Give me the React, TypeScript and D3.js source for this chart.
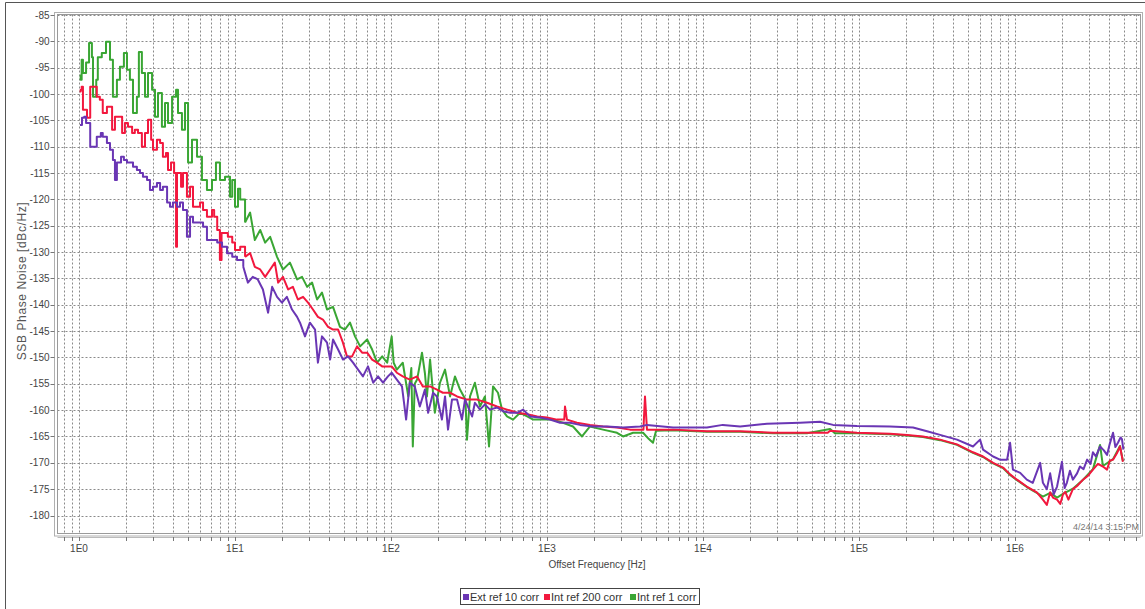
import React from 'react';
import * as d3 from 'd3';

const W = 1145;
const H = 609;

const seriesNames = ['Ext ref 10 corr', 'Int ref 200 corr', 'Int ref 1 corr'];
const seriesColors = ['#6a36b4', '#f2183e', '#3aa634'];

const yTickValues = [-85, -90, -95, -100, -105, -110, -115, -120, -125, -130, -135, -140, -145, -150, -155, -160, -165, -170, -175, -180];
const xMajorValues = [1, 10, 100, 1e3, 1e4, 1e5, 1e6];
const xMajorLabels = ['1E0', '1E1', '1E2', '1E3', '1E4', '1E5', '1E6'];
const xTitle = 'Offset Frequency [Hz]';
const yTitle = 'SSB Phase Noise [dBc/Hz]';
const timestamp = '4/24/14 3:15 PM';
// below this offset the analyser output is drawn as steps
const stepLimitHz = 12;

// Ext ref 10 corr (purple)
const extRef10: [number, number][] = [
  [1.015, -105.9], [1.045, -104.5], [1.08, -104.3], [1.11, -105.5], [1.18, -110], [1.27, -110], [1.30, -108.1],
  [1.38, -107.4], [1.42, -108.1], [1.51, -109.3], [1.58, -110.6], [1.65, -112.5], [1.70, -116.3], [1.75, -113],
  [1.86, -111.9], [1.94, -112.5], [2.03, -113], [2.12, -113], [2.22, -113.8], [2.35, -114.4], [2.46, -115],
  [2.57, -115.7], [2.73, -116.3], [2.85, -118.2], [2.98, -117.6], [3.16, -116.9], [3.31, -118.2], [3.45, -117.6],
  [3.67, -120.6], [3.83, -121.4], [4.0, -120.6], [4.25, -121.4], [4.44, -120.6], [4.64, -122], [4.92, -127.1],
  [5.15, -123.3], [5.38, -124.4], [5.80, -124.4], [6.24, -125.2], [6.61, -127.7], [7.12, -127.7], [7.69, -128.2],
  [8.26, -129], [8.89, -130.2], [9.6, -130.9], [10.3, -131.5], [11.3, -132.8], [12.1, -135.8], [13.0, -134.7],
  [14.0, -135.2], [15.1, -137.1], [16.3, -141.5], [17.3, -136.6], [18.6, -138.5], [20.0, -139.6], [21.5, -138.5],
  [23.2, -140.9], [25.0, -142.3], [26.1, -143.4], [28.1, -146], [30.2, -143.4], [32.6, -144.7], [34.0, -151],
  [36.1, -146], [38.9, -147.2], [40.7, -150.4], [42.5, -146.6], [45.8, -148.5], [49.2, -150.4], [53.0, -149.8],
  [57.1, -151], [61.5, -152.3], [66.1, -153.6], [71.2, -151.7], [76.9, -154.8], [82.6, -153.6], [88.9, -154.8],
  [95.6, -153.6], [101, -152.9], [109, -154.2], [117.6, -155.5], [125, -161.8], [132, -154.8], [142, -155.5],
  [153, -159.3], [165, -156.1], [173, -160.5], [186, -156.7], [197, -157.4], [212, -161.8], [222, -157.4],
  [232, -163.7], [246, -158], [265, -158], [285, -161.8], [298, -158], [331, -161.2], [345, -158.6], [372, -159.9],
  [400, -158.9], [431, -159.9], [478, -159.5], [522, -160.2], [580, -160.5], [643, -160.5], [703, -159.9],
  [780, -161.2], [900, -161.4], [1045, -161.8], [1212, -162.4], [1404, -162.4], [1627, -162.8], [1972, -163.1],
  [2424, -163.1], [3072, -163.3], [3946, -163.1], [4375, -162.8], [6430, -163.3], [1.06e4, -163.3], [1.34e4, -162.8],
  [1.73e4, -163.1], [2.57e4, -162.6], [4.19e4, -162.4], [5.63e4, -162.2], [6.82e4, -162.8], [9.7e4, -163],
  [1.58e5, -163.1], [2.22e5, -163.3], [2.73e5, -164], [3.31e5, -164.7], [4.25e5, -165.6], [5.38e5, -166.9],
  [5.97e5, -165.6], [6.24e5, -167.5], [7.24e5, -168.8], [8.0e5, -169.4], [8.9e5, -169.4], [9.3e5, -166.2],
  [9.7e5, -171.3], [1.08e6, -171.9], [1.19e6, -173.2], [1.3e6, -173.8], [1.45e6, -170], [1.51e6, -173.8],
  [1.6e6, -175], [1.68e6, -172], [1.77e6, -176], [1.86e6, -174.5], [2.0e6, -169.8], [2.08e6, -174.8],
  [2.15e6, -173.8], [2.25e6, -171.5], [2.35e6, -173.2], [2.5e6, -172], [2.61e6, -170.7], [2.75e6, -171.2],
  [2.9e6, -169.4], [3.05e6, -170.2], [3.16e6, -168], [3.3e6, -168.8], [3.51e6, -166.9], [3.7e6, -167.6],
  [3.89e6, -168.5], [4.05e6, -166.4], [4.25e6, -164.3], [4.4e6, -167], [4.57e6, -166.2], [4.75e6, -165.2],
  [4.85e6, -165.5], [4.95e6, -167.5],
];

// Int ref 200 corr (red)
const intRef200: [number, number][] = [
  [1.01, -99.5], [1.025, -99.2], [1.04, -98.6], [1.06, -103], [1.125, -104.5], [1.18, -98.6], [1.27, -98.6],
  [1.30, -100.5], [1.36, -101.1], [1.42, -103.6], [1.51, -102.4], [1.58, -102.4], [1.63, -106.8], [1.70, -104.3],
  [1.78, -104.3], [1.89, -107.4], [1.97, -105.5], [2.06, -106.2], [2.19, -107.4], [2.28, -106.8], [2.39, -107.4],
  [2.53, -110], [2.65, -107.4], [2.77, -104.9], [2.90, -108.7], [2.98, -110.6], [3.16, -108.7], [3.31, -109.3],
  [3.45, -111.9], [3.61, -111.2], [3.72, -114.4], [3.89, -113], [4.07, -115], [4.19, -129], [4.25, -115],
  [4.51, -117.6], [4.64, -115], [4.92, -119.5], [5.15, -117.6], [5.38, -121.4], [5.71, -121.4], [5.97, -120.6],
  [6.24, -122], [6.61, -123.3], [7.12, -122], [7.35, -123.3], [7.69, -125.8], [8.0, -131.5], [8.2, -126.4],
  [9.0, -127.1], [9.6, -128.2], [10.0, -129.6], [10.8, -129], [11.6, -130.9], [12.5, -130.2], [13.4, -132.8],
  [14.5, -133.3], [15.6, -134.7], [16.8, -133.3], [18.0, -132], [18.9, -135.8], [20.3, -134.7], [21.9, -137.1],
  [23.5, -136.6], [25.3, -139], [27.3, -138.5], [29.4, -139.6], [31.6, -140.9], [34.0, -142.3], [36.6, -142.8],
  [39.5, -144.2], [42.5, -144.7], [45.8, -144.7], [49.2, -147.2], [52.2, -149.8], [56.3, -149.8], [60.6, -147.9],
  [65.3, -149.1], [70.3, -149.1], [75.7, -150.4], [81.5, -151], [87.8, -151.7], [94.5, -151.7], [101, -151.7],
  [109, -152.9], [119, -153.6], [132, -154.2], [147, -153.6], [160, -155.5], [178, -155.5], [197, -156.1],
  [215, -156.7], [239, -156.7], [265, -157.4], [307, -158], [356, -158], [413, -158.6], [478, -159.3],
  [554, -159.9], [643, -160.5], [746, -160.8], [866, -161.2], [1000, -161.4], [1159, -161.8], [1290, -161.8],
  [1304, -159.3], [1343, -161.8], [1557, -162.4], [1887, -162.8], [2286, -163.1], [2812, -163.3], [3403, -163.7],
  [4150, -163.7], [4247, -157.4], [4375, -163.7], [6430, -163.7], [1.06e4, -164], [1.73e4, -164], [2.81e4, -164.3],
  [4.64e4, -164.3], [6.3e4, -164.3], [6.53e4, -163.9], [9.7e4, -164.3], [1.58e5, -164.5], [2.03e5, -164.7],
  [2.57e5, -165], [3.31e5, -165.6], [4.25e5, -166.5], [5.38e5, -168], [6.24e5, -168.8], [7.24e5, -170],
  [8.38e5, -170.9], [9.3e5, -172.2], [1.03e6, -173.2], [1.19e6, -174.5], [1.38e6, -175.6], [1.51e6, -177],
  [1.6e6, -178], [1.68e6, -175.6], [1.75e6, -176.6], [1.86e6, -177], [1.95e6, -177.8], [2.03e6, -176],
  [2.1e6, -175.5], [2.2e6, -177], [2.35e6, -175], [2.5e6, -174.4], [2.73e6, -173.2], [2.95e6, -172.4],
  [3.16e6, -171.3], [3.4e6, -170.2], [3.66e6, -170.7], [3.89e6, -171.3], [4.05e6, -169.6], [4.25e6, -169.4],
  [4.5e6, -168.2], [4.71e6, -166.9], [4.92e6, -169.8],
];

// Int ref 1 corr (green)
const intRef1: [number, number][] = [
  [1.01, -96.5], [1.025, -97.3], [1.04, -93.5], [1.06, -96], [1.11, -94], [1.16, -90.3], [1.21, -93],
  [1.23, -100.5], [1.29, -97.3], [1.32, -93], [1.40, -92.2], [1.49, -90.1], [1.58, -93.5], [1.65, -100.5],
  [1.75, -97.3], [1.83, -94.8], [1.94, -92.2], [2.03, -95.4], [2.12, -97.3], [2.22, -103.6], [2.35, -100.5],
  [2.42, -92], [2.53, -96], [2.65, -100.5], [2.77, -96], [2.94, -99.2], [3.07, -104.3], [3.21, -99.8],
  [3.40, -106.2], [3.56, -101.7], [3.72, -105.5], [3.95, -100.5], [4.19, -99.2], [4.31, -103.6], [4.57, -106.8],
  [4.78, -101.7], [5.0, -113], [5.30, -108.7], [5.71, -111.9], [6.14, -116.3], [6.61, -118.2], [7.12, -116.3],
  [7.55, -113], [8.01, -116.3], [8.63, -115.7], [9.29, -119.5], [9.6, -116.3], [10.0, -121.4], [10.45, -118],
  [10.8, -120], [11.6, -124.4], [12.5, -122.5], [13.4, -127.7], [14.5, -125.8], [15.6, -128.2], [16.8, -127.1],
  [18.6, -130.9], [20.3, -133.3], [22.5, -132], [25.0, -135.2], [26.9, -134.7], [29.0, -136.6], [31.2, -135.8],
  [33.6, -139], [36.1, -137.7], [38.9, -140.9], [42.5, -140.4], [47.1, -144.2], [50.7, -144.7], [54.6, -143.4],
  [58.8, -146], [63.4, -147.9], [70.3, -146.6], [75.7, -148.5], [81.5, -151], [87.8, -149.8], [94.5, -151],
  [101, -146], [104, -151], [109, -152.3], [119, -151], [129, -157.4], [135, -152], [138, -166.9], [142, -155],
  [147, -154.2], [158, -149.1], [165, -153], [170, -157.4], [178, -150.4], [191, -160.5], [206, -154.8],
  [222, -152.3], [239, -157.4], [257, -153.6], [277, -156.1], [300, -158], [307, -165.6], [321, -157.4],
  [345, -154.8], [372, -159.3], [400, -157.4], [425, -166.9], [451, -155.5], [485, -156.7], [515, -159.9],
  [554, -161.2], [606, -161.8], [672, -160.5], [746, -161.2], [815, -161.8], [945, -161.8], [1090, -161.8],
  [1266, -162.4], [1468, -163.1], [1676, -165], [1887, -163.1], [2286, -163.7], [2812, -164.3], [3072, -165],
  [3563, -164.3], [4128, -164.3], [4500, -165.5], [4780, -166.2], [5000, -163.9], [6430, -163.8], [1.06e4, -164.1],
  [1.73e4, -164.1], [2.81e4, -164.4], [4.64e4, -164.4], [6.53e4, -163.6], [7e4, -164.4], [9.7e4, -164.4],
  [1.58e5, -164.6], [2.03e5, -164.8], [2.57e5, -165.1], [3.31e5, -165.7], [4.25e5, -166.6], [5.38e5, -168.1],
  [6.24e5, -168.9], [7.24e5, -170.1], [8.38e5, -171], [9.3e5, -172.3], [1.03e6, -173.3], [1.19e6, -174.6],
  [1.38e6, -175.7], [1.51e6, -176.4], [1.68e6, -175.7], [1.86e6, -176.6], [2.03e6, -175.9], [2.35e6, -174.9],
  [2.73e6, -173.2], [3.16e6, -171.2], [3.51e6, -166.6], [3.66e6, -170.6], [4.25e6, -169.3], [4.71e6, -166.8],
  [4.92e6, -169.7],
];

const seriesData = [extRef10, intRef200, intRef1];

const FONT = '"Liberation Sans", Arial, sans-serif';

export default function App() {
  // plot box
  const left = 57.5;
  const right = 1140.5;
  const top = 14.5;
  const bottom = 533.5;

  const x = d3.scaleLog().domain([1, 1e6]).range([79, 1015]);
  const y = d3.scaleLinear().domain([-85, -180]).range([15, 515.5]);

  const [fMin, fMax] = [x.invert(left), x.invert(right)];
  const gridX: number[] = [];
  for (let e = -1; e <= 6; e++) {
    for (let k = 1; k <= 9; k++) {
      const v = k * Math.pow(10, e);
      if (v >= fMin && v <= fMax) gridX.push(v);
    }
  }

  const stepLine = d3
    .line<[number, number]>()
    .x((d) => x(d[0]))
    .y((d) => y(d[1]))
    .curve(d3.curveStepAfter);
  const plainLine = d3
    .line<[number, number]>()
    .x((d) => x(d[0]))
    .y((d) => y(d[1]))
    .curve(d3.curveLinear);

  const pathFor = (data: [number, number][]) => {
    const low = data.filter((d) => d[0] <= stepLimitHz);
    const highStart = Math.max(0, low.length - 1);
    const high = data.slice(highStart);
    return (stepLine(low) || '') + ' ' + (plainLine(high) || '');
  };

  const drawOrder = [2, 1, 0];

  const legendX = [465, 546, 632];

  return (
    <svg
      width={W}
      height={H}
      style={{ position: 'absolute', left: 0, top: 0, background: '#fff' }}
      fontFamily={FONT}
    >
      <rect x={0} y={0} width={W} height={H} fill="#fff" />
      {/* outer frame */}
      <path d={`M5.5,${H} V2.5 H${W}`} fill="none" stroke="#555" strokeWidth={1} />

      <defs>
        <clipPath id="plotClip">
          <rect x={left} y={top} width={right - left} height={bottom - top} />
        </clipPath>
      </defs>

      {/* horizontal grid */}
      {yTickValues.map((v) => (
        <line
          key={'hy' + v}
          x1={left}
          x2={right}
          y1={Math.round(y(v)) + 0.5}
          y2={Math.round(y(v)) + 0.5}
          stroke="#8a8a8a"
          strokeWidth={1}
          strokeDasharray="2 2"
        />
      ))}
      {/* vertical grid */}
      {gridX.map((v) => (
        <line
          key={'gx' + v}
          x1={Math.round(x(v)) + 0.5}
          x2={Math.round(x(v)) + 0.5}
          y1={top}
          y2={bottom}
          stroke="#8a8a8a"
          strokeWidth={1}
          strokeDasharray="2 2"
        />
      ))}

      {/* series */}
      <g clipPath="url(#plotClip)">
        {drawOrder.map((i) => (
          <path
            key={seriesNames[i]}
            d={pathFor(seriesData[i])}
            fill="none"
            stroke={seriesColors[i]}
            strokeWidth={2}
            strokeLinejoin="round"
          />
        ))}
      </g>

      {/* double border */}
      <rect x={left} y={top} width={right - left} height={bottom - top} fill="none" stroke="#9a9a9a" strokeWidth={1} />
      <rect x={left - 3} y={top - 2} width={right - left + 5} height={bottom - top + 4.5} fill="none" stroke="#b0b0b0" strokeWidth={1} />

      {/* y ticks + labels */}
      {yTickValues.map((v) => (
        <g key={'yt' + v}>
          <line x1={left - 7} x2={left - 3} y1={Math.round(y(v)) + 0.5} y2={Math.round(y(v)) + 0.5} stroke="#777" />
          <text x={49.5} y={y(v)} dy="0.35em" textAnchor="end" fontSize={10} fill="#444">
            {v}
          </text>
        </g>
      ))}

      {/* x ticks */}
      <line x1={left} x2={right} y1={537.5} y2={537.5} stroke="#bbb" />
      {gridX.map((v) => (
        <line key={'xt' + v} x1={Math.round(x(v)) + 0.5} x2={Math.round(x(v)) + 0.5} y1={537} y2={541} stroke="#777" />
      ))}
      {xMajorValues.map((v, i) => (
        <text key={'xl' + v} x={x(v)} y={552} textAnchor="middle" fontSize={10} fill="#444">
          {xMajorLabels[i]}
        </text>
      ))}

      {/* axis titles */}
      <text x={597} y={568} textAnchor="middle" fontSize={10} fill="#444">
        {xTitle}
      </text>
      <text
        transform="translate(26,281) rotate(-90)"
        textAnchor="middle"
        fontSize={12}
        letterSpacing={0.6}
        fill="#555"
      >
        {yTitle}
      </text>

      {/* timestamp */}
      <text x={1139} y={530} textAnchor="end" fontSize={9} fill="#777">
        {timestamp}
      </text>

      {/* legend */}
      <rect x={460.5} y={588.5} width={239} height={16} fill="#fff" stroke="#444" />
      {seriesNames.map((n, i) => (
        <g key={'lg' + n}>
          <rect x={legendX[i] - 2} y={594} width={6} height={6} fill={seriesColors[i]} />
          <text x={legendX[i] + 5} y={600.5} fontSize={11} fill="#333">
            {n}
          </text>
        </g>
      ))}
    </svg>
  );
}
